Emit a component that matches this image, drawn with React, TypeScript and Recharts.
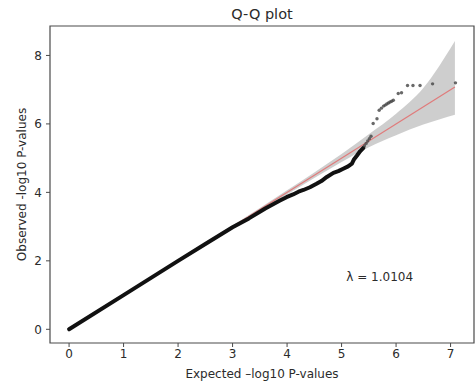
import React from 'react';
import {
  ComposedChart,
  XAxis,
  YAxis,
  Line,
  Area,
  Scatter,
  ReferenceArea,
  ReferenceDot,
} from 'recharts';

// Dense body of the Q-Q curve (expected vs observed -log10 P)
const expectedDense = [0, 1, 2, 2.5, 3, 3.3, 3.6, 3.87, 3.99, 4.11, 4.21, 4.3, 4.42, 4.54, 4.63, 4.73, 4.85, 4.94, 5.03, 5.12, 5.19, 5.23, 5.28, 5.34, 5.4];
const observedDense = [0, 1, 2, 2.49, 2.98, 3.24, 3.53, 3.76, 3.86, 3.94, 4.02, 4.07, 4.15, 4.25, 4.33, 4.45, 4.57, 4.62, 4.69, 4.76, 4.84, 4.97, 5.07, 5.2, 5.3];

// Upper tail, drawn as individual points
const expectedTail = [5.42, 5.45, 5.48, 5.51, 5.54, 5.58, 5.65, 5.69, 5.73, 5.77, 5.8, 5.83, 5.86, 5.89, 5.92, 5.95, 6.04, 6.1, 6.21, 6.31, 6.44, 6.67, 7.09];
const observedTail = [5.36, 5.43, 5.5, 5.57, 5.64, 6.01, 6.15, 6.4, 6.46, 6.52, 6.55, 6.58, 6.61, 6.64, 6.66, 6.69, 6.89, 6.91, 7.12, 7.12, 7.12, 7.17, 7.2];

// 95% confidence band around the null expectation
const bandX = [0, 1, 2, 3, 4, 4.5, 5, 5.5, 6, 6.5, 7.08];
const bandLow = [0, 0.99, 1.98, 2.97, 3.94, 4.42, 4.89, 5.32, 5.67, 5.98, 6.27];
const bandHigh = [0, 1.01, 2.02, 3.03, 4.06, 4.58, 5.12, 5.7, 6.3, 7.05, 8.42];

// Null line y = x across the expected range
const nullLineX = [0, 7.08];

const xTicks = [0, 1, 2, 3, 4, 5, 6, 7];
const yTicks = [0, 2, 4, 6, 8];
const xDomain: [number, number] = [-0.35, 7.43];
const yDomain: [number, number] = [-0.4, 8.86];

const lambdaText = 'λ = 1.0104';
const lambdaPos = { x: 5.7, y: 1.54 };

const denseData = expectedDense.map((x, i) => ({ x, y: observedDense[i] }));
const tailData = expectedTail.map((x, i) => ({ x, y: observedTail[i] }));
const bandData = bandX.map((x, i) => ({ x, band: [bandLow[i], bandHigh[i]] }));
const nullData = nullLineX.map((x) => ({ x, y: x }));

const FONT = '"DejaVu Sans", sans-serif';
const TEXT = '#2b2b2b';
const SPINE = '#4a4a4a';
const FS = 12;

const TailDot = (props: any) => {
  const { cx, cy } = props;
  if (cx == null || cy == null) return null;
  return <circle cx={cx} cy={cy} r={1.7} fill="#444" fillOpacity={0.8} />;
};

export default function App() {
  return (
    <div style={{ position: 'absolute', left: 0, top: 0, width: 475, height: 383, background: '#fff' }}>
      <div
        style={{
          position: 'absolute',
          left: 50,
          width: 424,
          top: 5,
          textAlign: 'center',
          fontFamily: FONT,
          fontSize: 14.5,
          color: TEXT,
          lineHeight: '18px',
        }}
      >
        Q-Q plot
      </div>
      <ComposedChart
        width={475}
        height={383}
        margin={{ top: 26, right: 1, left: 0, bottom: 0 }}
        style={{ fontFamily: FONT }}
      >
        <XAxis
          type="number"
          dataKey="x"
          domain={xDomain}
          ticks={xTicks}
          allowDataOverflow
          height={40}
          axisLine={false}
          tickLine={{ stroke: SPINE }}
          tickSize={4}
          tickMargin={2}
          tick={{ fontSize: FS, fill: TEXT, fontFamily: FONT }}
          label={{
            value: 'Expected –log10 P-values',
            position: 'insideBottom',
            offset: 5,
            fontSize: FS,
            fill: TEXT,
            fontFamily: FONT,
          }}
        />
        <YAxis
          type="number"
          domain={yDomain}
          ticks={yTicks}
          allowDataOverflow
          width={50}
          axisLine={false}
          tickLine={{ stroke: SPINE }}
          tickSize={4}
          tickMargin={4}
          tick={{ fontSize: FS, fill: TEXT, fontFamily: FONT }}
          label={{
            value: 'Observed -log10 P-values',
            angle: -90,
            position: 'insideLeft',
            offset: 22,
            fontSize: FS,
            fill: TEXT,
            fontFamily: FONT,
            style: { textAnchor: 'middle' },
          }}
        />
        <Area
          data={bandData}
          dataKey="band"
          type="monotone"
          stroke="none"
          fill="#bdbdbd"
          fillOpacity={0.75}
          isAnimationActive={false}
          dot={false}
          activeDot={false}
        />
        <Line
          data={nullData}
          dataKey="y"
          stroke="#e07b7b"
          strokeWidth={1.2}
          dot={false}
          activeDot={false}
          isAnimationActive={false}
        />
        <Line
          data={denseData}
          dataKey="y"
          type="linear"
          stroke="#111"
          strokeWidth={4}
          strokeLinecap="round"
          strokeLinejoin="round"
          dot={false}
          activeDot={false}
          isAnimationActive={false}
        />
        <Scatter data={tailData} dataKey="y" shape={<TailDot />} isAnimationActive={false} />
        <ReferenceDot
          x={lambdaPos.x}
          y={lambdaPos.y}
          r={0}
          stroke="none"
          fill="none"
          label={{ value: lambdaText, position: 'center', fontSize: FS, fill: TEXT, fontFamily: FONT }}
        />
        <ReferenceArea
          x1={xDomain[0]}
          x2={xDomain[1]}
          y1={yDomain[0]}
          y2={yDomain[1]}
          fill="none"
          stroke={SPINE}
          strokeWidth={1.2}
          ifOverflow="visible"
        />
      </ComposedChart>
    </div>
  );
}
